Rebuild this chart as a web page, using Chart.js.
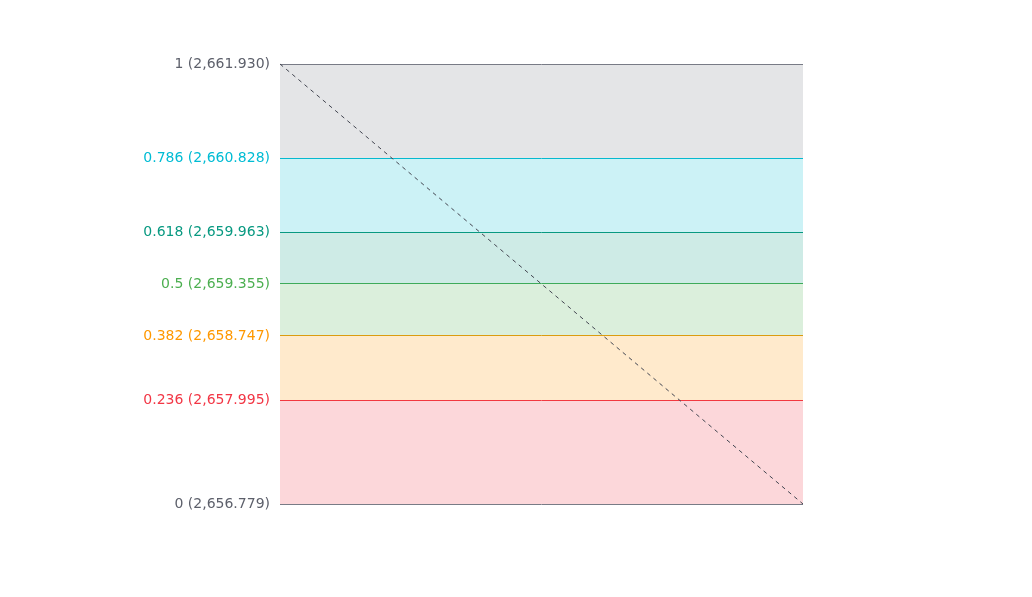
<!DOCTYPE html>
<html>
<head>
<meta charset="utf-8">
<script src="https://cdn.jsdelivr.net/npm/chart.js@4/dist/chart.umd.min.js"></script>
<style>
html,body{margin:0;padding:0;background:#fff;}
#wrap{width:1032px;height:597px;position:relative;}
</style>
</head>
<body>
<div id="wrap"><canvas id="c"></canvas></div>
<script>
const levels = [1, 0.786, 0.618, 0.5, 0.382, 0.236, 0];
const prices = [2661.930, 2660.828, 2659.963, 2659.355, 2658.747, 2657.995, 2656.779];
const levelColors = ['#787b86', '#00bcd4', '#089981', '#4caf50', '#ff9800', '#f23645', '#787b86'];
const labelColors = ['#5d606b', '#00bcd4', '#089981', '#4caf50', '#ff9800', '#f23645', '#5d606b'];
const trendX = [0, 1];
const trendY = [2661.930, 2656.779];

function hexA(hex, a) {
  const n = parseInt(hex.slice(1), 16);
  return `rgba(${(n >> 16) & 255},${(n >> 8) & 255},${n & 255},${a})`;
}

const datasets = levels.map((lv, i) => ({
  label: String(lv),
  data: [{x: 0, y: prices[i]}, {x: 1, y: prices[i]}],
  borderColor: 'rgba(0,0,0,0)',
  borderWidth: 0,
  pointRadius: 0,
  fill: i < levels.length - 1 ? {target: i + 1} : false,
  backgroundColor: hexA(levelColors[i], 0.2),
  order: 2
}));

datasets.push({
  label: 'trend',
  data: trendX.map((x, i) => ({x, y: trendY[i]})),
  borderColor: '#434651',
  borderWidth: 1,
  borderDash: [4, 4],
  pointRadius: 0,
  fill: false,
  clip: false,
  order: 1
});

function fmt(p) {
  return p.toLocaleString('en-US', {minimumFractionDigits: 3, maximumFractionDigits: 3});
}
function idxOf(v) {
  let best = 0, d = Infinity;
  prices.forEach((p, i) => { if (Math.abs(p - v) < d) { d = Math.abs(p - v); best = i; } });
  return best;
}

new Chart(document.getElementById('c'), {
  type: 'line',
  data: {datasets},
  options: {
    responsive: true,
    maintainAspectRatio: false,
    animation: false,
    layout: {padding: {left: 0, right: 229, top: 64, bottom: 93}},
    plugins: {legend: {display: false}, tooltip: {enabled: false}},
    scales: {
      x: {
        type: 'linear', min: 0, max: 1, display: false
      },
      y: {
        type: 'linear',
        z: 1,
        min: prices[prices.length - 1],
        max: prices[0],
        grid: {
          display: true,
          drawTicks: false,
          lineWidth: 1,
          color: (ctx) => ctx.tick ? levelColors[idxOf(ctx.tick.value)] : 'rgba(0,0,0,0)'
        },
        border: {display: false},
        afterBuildTicks: (scale) => {
          scale.ticks = prices.map(p => ({value: p}));
        },
        afterFit: (scale) => { scale.width = 280; },
        ticks: {
          padding: 10,
          font: {family: 'DejaVu Sans', size: 14},
          color: (ctx) => labelColors[idxOf(ctx.tick.value)],
          callback: (value) => {
            const i = idxOf(value);
            return `${levels[i]} (${fmt(prices[i])})`;
          }
        }
      }
    }
  }
});
</script>
</body>
</html>
